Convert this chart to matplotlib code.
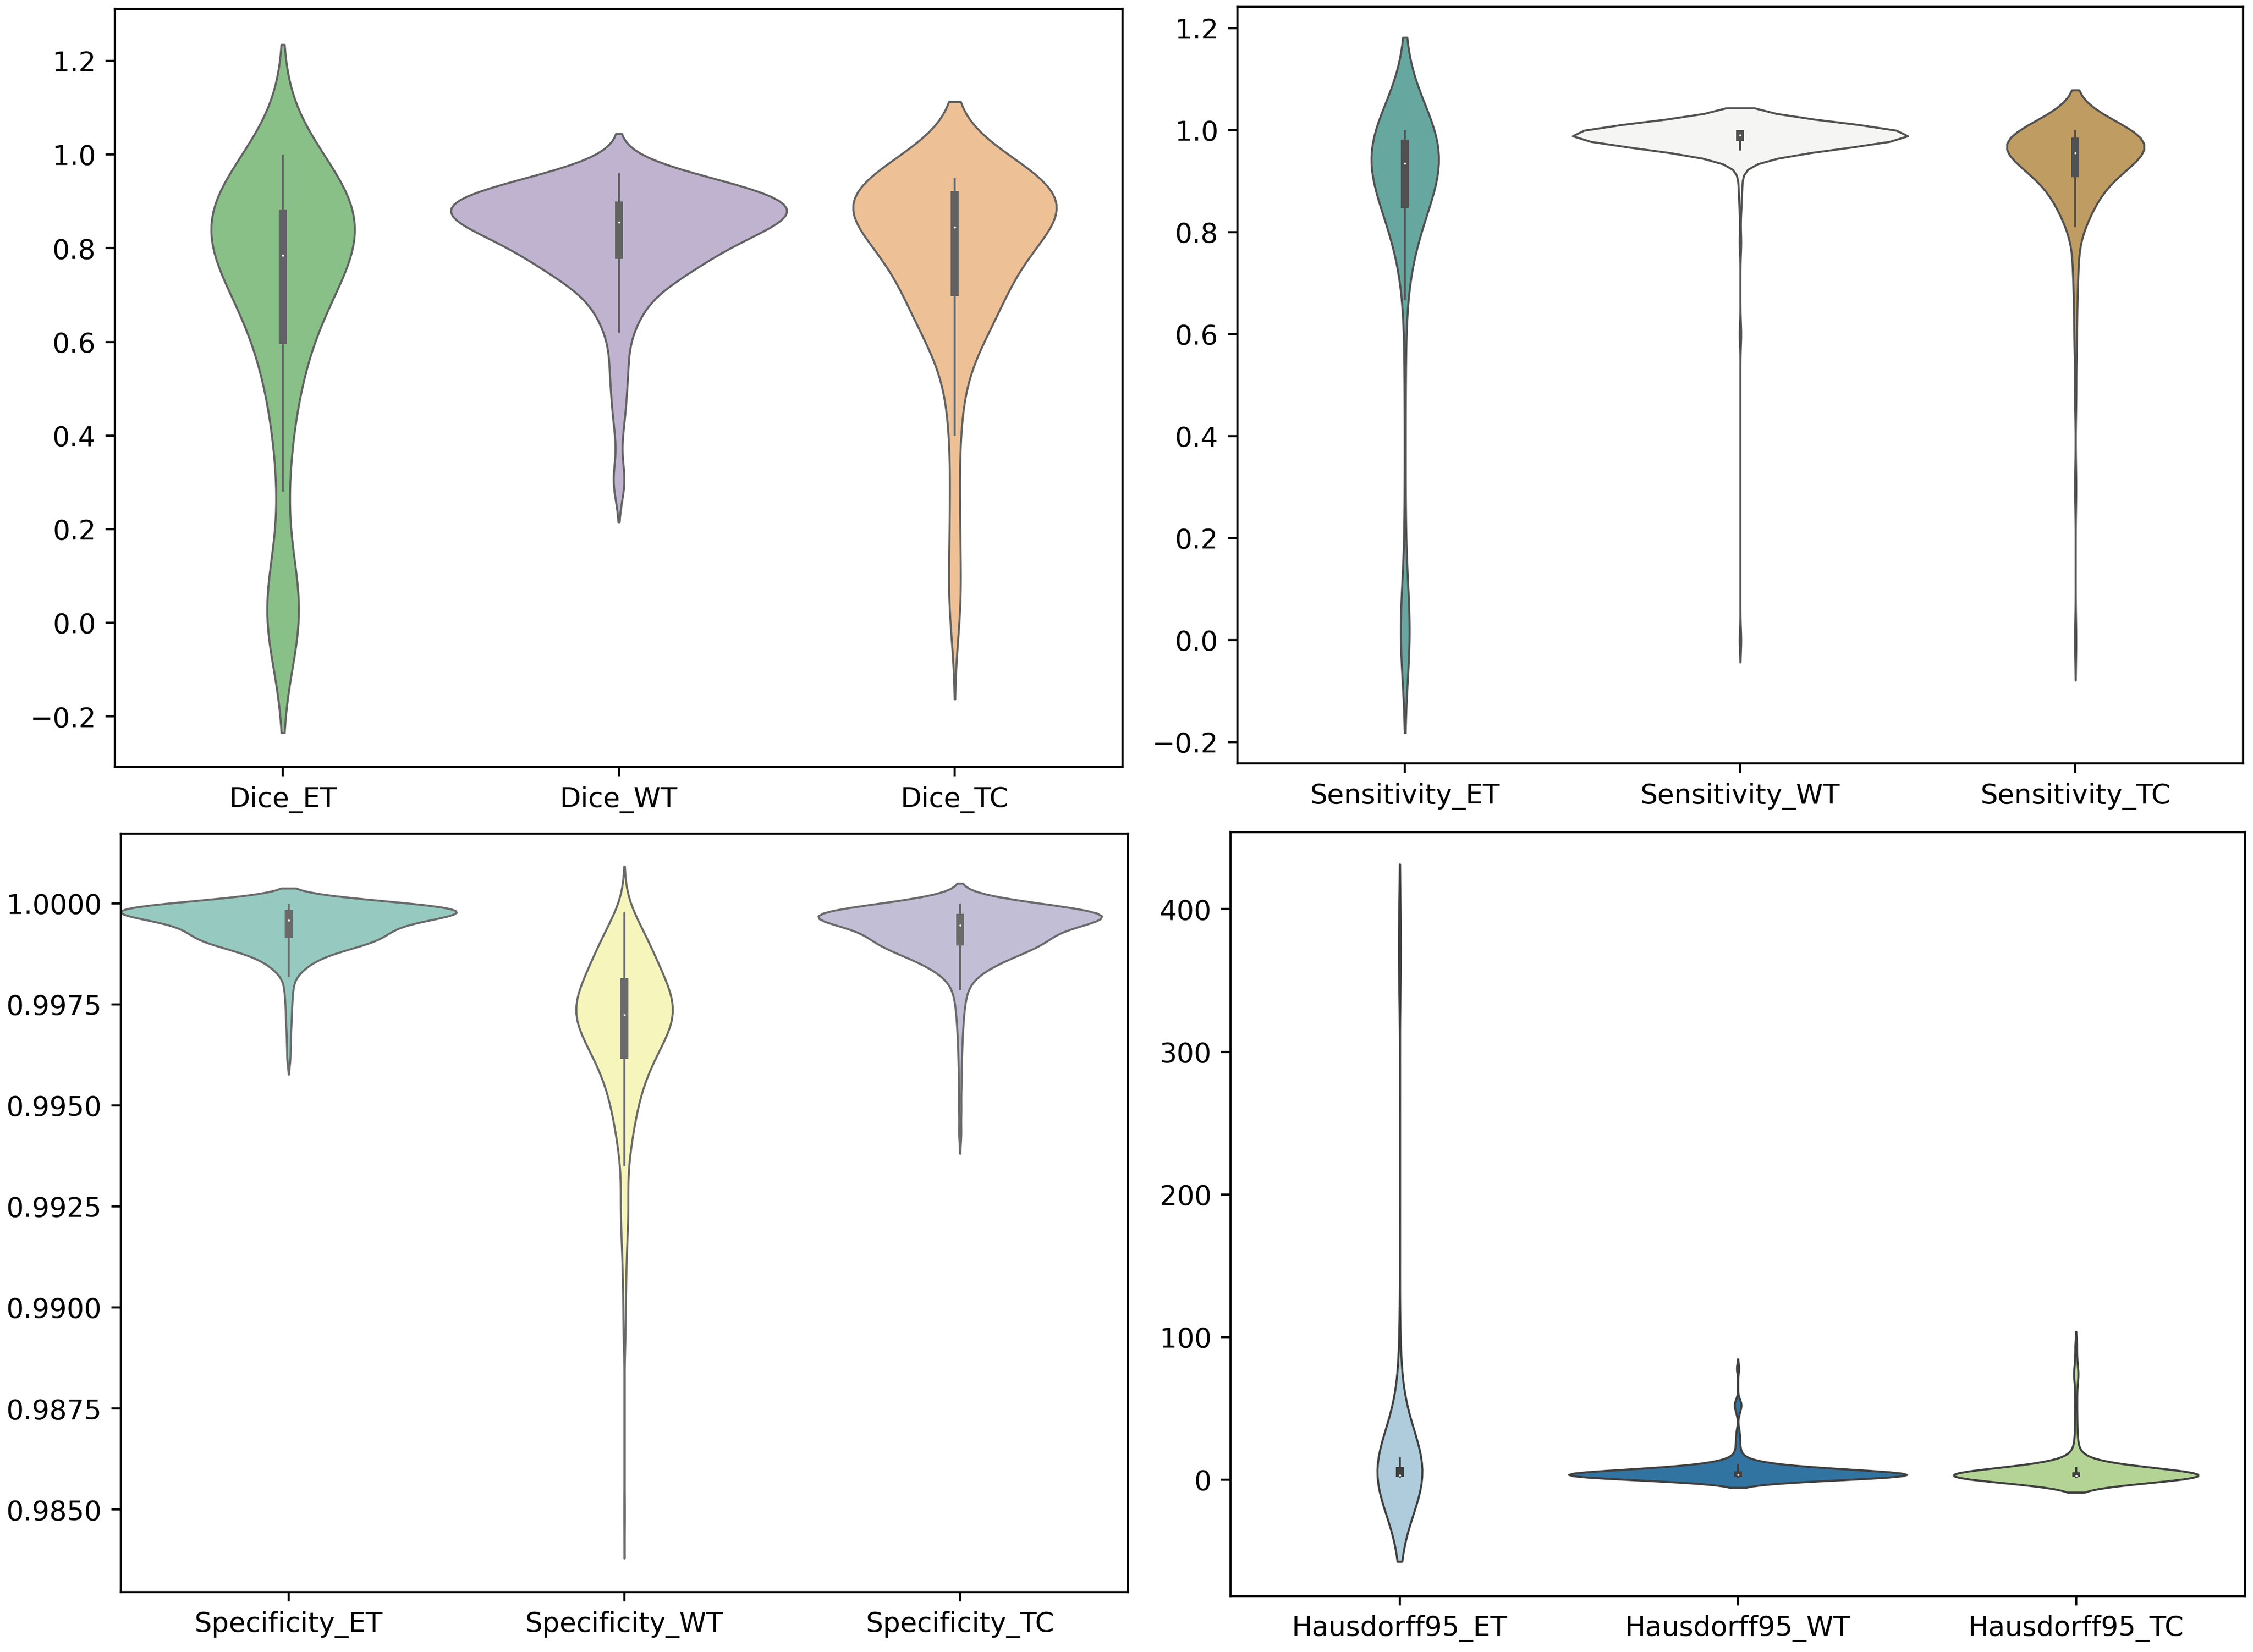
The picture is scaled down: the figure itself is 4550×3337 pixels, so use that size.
import numpy as np
import pandas as pd
import matplotlib
matplotlib.use('Agg')
import matplotlib.pyplot as plt
from matplotlib.cbook import boxplot_stats
import seaborn as sns

# each metric is stored as distinct values + how many cases share that value

dice_names = ['Dice_ET', 'Dice_WT', 'Dice_TC']
dice_et_values = [0.00, 0.01, 0.03, 0.05, 0.06, 0.08, 0.10,
                  0.28, 0.33, 0.38, 0.42, 0.46, 0.49, 0.52, 0.54, 0.55, 0.56, 0.57, 0.58,
                  0.60, 0.62, 0.63, 0.64, 0.66, 0.67, 0.68, 0.69, 0.70, 0.71,
                  0.72, 0.73, 0.74, 0.75, 0.76, 0.77, 0.78,
                  0.79, 0.80, 0.81, 0.82, 0.83, 0.84, 0.85, 0.86, 0.87, 0.88,
                  0.89, 0.90, 0.91, 0.92, 0.93, 0.94, 0.95, 0.96, 0.97, 0.98, 1.00]
dice_et_counts = [6, 2, 1, 1, 1, 1, 1,
                  1, 1, 1, 1, 1, 1, 1, 1, 1, 1, 1, 1,
                  1, 1, 1, 1, 1, 1, 1, 1, 1, 1,
                  2, 1, 2, 2, 2, 2, 4,
                  1, 2, 2, 3, 2, 3, 3, 3, 3, 3,
                  3, 3, 3, 3, 3, 2, 2, 1, 1, 1, 3]
dice_wt_values = [0.30, 0.31, 0.40, 0.44, 0.46, 0.49, 0.51, 0.53, 0.55, 0.57, 0.58,
                  0.62, 0.64, 0.66, 0.67, 0.69, 0.70, 0.71, 0.72, 0.73,
                  0.74, 0.75, 0.76, 0.77,
                  0.78, 0.79, 0.80, 0.81, 0.82, 0.83, 0.84, 0.85,
                  0.86, 0.87, 0.88, 0.89, 0.90,
                  0.91, 0.92, 0.93, 0.94, 0.95, 0.96]
dice_wt_counts = [2, 1, 1, 1, 1, 1, 1, 1, 1, 1, 1,
                  2, 2, 2, 2, 2, 2, 2, 2, 2,
                  4, 4, 6, 6,
                  4, 4, 6, 6, 6, 8, 8, 8,
                  10, 12, 12, 10, 12,
                  10, 10, 8, 8, 4, 4]
dice_tc_values = [0.00, 0.05, 0.10, 0.17, 0.24, 0.31, 0.40, 0.45, 0.50, 0.54,
                  0.57, 0.59, 0.61, 0.62, 0.63, 0.64, 0.65, 0.66, 0.67, 0.68, 0.69,
                  0.70, 0.71, 0.72, 0.73, 0.74, 0.75, 0.76, 0.77, 0.78, 0.79,
                  0.80, 0.81, 0.82, 0.83, 0.84,
                  0.85, 0.86, 0.87, 0.88, 0.89, 0.90, 0.91, 0.92,
                  0.93, 0.94, 0.95]
dice_tc_counts = [1, 1, 1, 1, 1, 1, 1, 1, 1, 1,
                  1, 1, 1, 1, 1, 1, 1, 2, 2, 2, 2,
                  1, 1, 1, 1, 1, 2, 1, 2, 2, 2,
                  2, 2, 2, 3, 2,
                  3, 3, 3, 3, 3, 3, 3, 4,
                  9, 9, 7]

sens_names = ['Sensitivity_ET', 'Sensitivity_WT', 'Sensitivity_TC']
sens_et_values = [0.00, 0.01, 0.02, 0.03, 0.05, 0.07, 0.10, 0.14, 0.20,
                  0.25, 0.32, 0.40, 0.47, 0.53, 0.58, 0.62,
                  0.667, 0.69, 0.71, 0.73, 0.75, 0.77, 0.79, 0.80, 0.81, 0.82, 0.83, 0.84,
                  0.85, 0.86, 0.87, 0.88, 0.89, 0.90, 0.91, 0.92, 0.93,
                  0.94, 0.95, 0.96, 0.97, 0.98,
                  0.985, 0.99, 0.995, 1.00]
sens_et_counts = [14, 4, 3, 2, 2, 2, 1, 1, 1,
                  1, 1, 1, 1, 1, 1, 1,
                  1, 1, 1, 2, 2, 3, 4, 4, 5, 5, 5, 5,
                  7, 7, 8, 8, 8, 9, 9, 10, 9,
                  15, 16, 16, 16, 12,
                  15, 25, 15, 20]
sens_wt_values = [0.00, 0.60, 0.78, 0.85, 0.88, 0.90, 0.92, 0.93,
                  0.96, 0.965, 0.97, 0.975, 0.98, 0.985, 0.99, 0.995, 1.00]
sens_wt_counts = [1, 1, 1, 1, 1, 1, 1, 1,
                  7, 10, 20, 25, 30, 25, 25, 10, 120]
sens_tc_values = [0.00, 0.30, 0.48, 0.56, 0.60, 0.64, 0.67, 0.70, 0.72, 0.74, 0.755, 0.765,
                  0.81, 0.82, 0.83, 0.84, 0.85, 0.86, 0.87, 0.88, 0.89, 0.90,
                  0.91, 0.92, 0.93, 0.94, 0.95,
                  0.96, 0.97, 0.98,
                  0.985, 0.99, 0.995, 1.00]
sens_tc_counts = [1, 1, 1, 1, 1, 1, 1, 1, 1, 1, 1, 1,
                  3, 2, 3, 3, 4, 4, 4, 4, 5, 6,
                  7, 8, 10, 11, 14,
                  15, 15, 14,
                  11, 16, 14, 15]

spec_names = ['Specificity_ET', 'Specificity_WT', 'Specificity_TC']
spec_et_values = [0.99615, 0.99650, 0.99680, 0.99705, 0.99725, 0.99745, 0.99762, 0.99778, 0.99792, 0.99803,
                  0.99817, 0.99825, 0.99833, 0.99841, 0.99849, 0.99857, 0.99865, 0.99873, 0.99881,
                  0.99889, 0.99897, 0.99905, 0.99910,
                  0.99915, 0.99922, 0.99930, 0.99937, 0.99944, 0.99951, 0.99957,
                  0.99960, 0.99964, 0.99968, 0.99972, 0.99976, 0.99980, 0.99984, 0.99988,
                  0.99992, 0.99995, 0.99998, 1.00000]
spec_et_counts = [1, 1, 1, 1, 1, 1, 1, 1, 1, 1,
                  1, 1, 2, 2, 3, 3, 4, 5, 6,
                  8, 10, 12, 8,
                  10, 11, 12, 13, 14, 10, 5,
                  8, 10, 12, 14, 14, 14, 14, 13,
                  12, 11, 12, 16]
spec_wt_values = [0.98493, 0.98950, 0.99050, 0.99120, 0.99170, 0.99210, 0.99240, 0.99265, 0.99285,
                  0.99351, 0.99370, 0.99390, 0.99410, 0.99430, 0.99450, 0.99470, 0.99490, 0.99510,
                  0.99530, 0.99550, 0.99570, 0.99590, 0.99600,
                  0.99615, 0.99630, 0.99645, 0.99660, 0.99675, 0.99690, 0.99700, 0.99712,
                  0.99725, 0.99738, 0.99750, 0.99762, 0.99774, 0.99786, 0.99798,
                  0.99815, 0.99830, 0.99845, 0.99860, 0.99875, 0.99890, 0.99905, 0.99920,
                  0.99935, 0.99950, 0.99965, 0.99978]
spec_wt_counts = [1, 3, 3, 3, 3, 3, 3, 3, 3,
                  3, 3, 3, 3, 3, 6, 6, 6, 6,
                  9, 9, 9, 9, 9,
                  12, 12, 12, 15, 15, 15, 15, 18,
                  18, 18, 15, 15, 15, 15, 15,
                  15, 15, 12, 12, 12, 9, 9, 9,
                  9, 6, 3, 3]
spec_tc_values = [0.99431, 0.99490, 0.99545, 0.99590, 0.99625, 0.99655, 0.99680, 0.99700, 0.99718,
                  0.99733, 0.99747, 0.99760, 0.99770, 0.99778,
                  0.99786, 0.99795, 0.99804, 0.99812, 0.99820, 0.99828, 0.99836, 0.99844,
                  0.99852, 0.99860, 0.99868, 0.99876, 0.99884, 0.99890,
                  0.99898, 0.99904, 0.99910, 0.99916, 0.99922, 0.99928, 0.99934, 0.99942,
                  0.99950, 0.99954, 0.99958, 0.99962, 0.99966, 0.99970, 0.99974, 0.99978,
                  0.99982, 0.99986, 0.99990, 0.99994, 0.99997, 1.00000]
spec_tc_counts = [1, 1, 1, 1, 1, 1, 1, 1, 1,
                  1, 1, 1, 1, 1,
                  1, 1, 1, 2, 2, 3, 3, 4,
                  5, 6, 7, 8, 9, 9,
                  9, 10, 10, 11, 11, 9, 8, 7,
                  6, 9, 12, 14, 16, 17, 17, 16,
                  13, 11, 8, 6, 3, 2]

hd_names = ['Hausdorff95_ET', 'Hausdorff95_WT', 'Hausdorff95_TC']
hd_et_values = [1.0, 1.41, 1.73, 2.0, 2.24, 2.45, 2.83, 3.0, 3.61, 4.12, 5.0, 6.0, 7.07,
                8.06, 9.06, 10.05, 11.0, 12.08, 13.0, 14.2, 15.6,
                24.0, 28.5, 33.0, 39.0, 46.0, 54.0, 61.0, 70.0, 85.0, 373.13]
hd_et_counts = [8, 10, 5, 7, 6, 4, 5, 5, 4, 4, 4, 4, 4,
                3, 3, 3, 2, 2, 2, 1, 1,
                1, 1, 1, 1, 1, 1, 1, 1, 1, 4]
hd_wt_values = [1.0, 1.41, 2.0, 2.24, 2.83, 3.0, 3.16, 3.61, 4.0, 4.24, 4.47, 5.0, 5.39,
                6.0, 6.4, 7.07, 7.81, 8.6, 9.43, 10.2, 11.0, 12.04, 13.0, 14.0,
                16.0, 18.0, 21.0, 25.0, 29.0, 34.0, 47.0, 52.0, 55.0, 78.0]
hd_wt_counts = [10, 17, 15, 12, 14, 14, 10, 12, 10, 8, 8, 8, 7,
                7, 6, 6, 5, 5, 4, 3, 3, 2, 2, 1,
                1, 1, 1, 1, 1, 1, 1, 2, 1, 1]
hd_tc_values = [1.0, 1.41, 1.73, 2.0, 2.24, 2.45, 2.83, 3.0, 3.16, 3.61, 4.0, 4.47, 5.0,
                5.66, 6.4, 7.07, 8.0, 9.0, 10.0, 11.0, 12.2, 13.5, 15.0, 16.8, 19.0,
                22.0, 26.0, 31.0, 38.0, 46.0, 55.0, 64.0, 71.0, 74.0, 77.0, 84.0, 94.0]
hd_tc_counts = [12, 23, 8, 21, 14, 8, 14, 11, 8, 9, 8, 7, 7,
                6, 5, 5, 4, 4, 3, 3, 2, 2, 2, 1, 1,
                1, 1, 1, 1, 1, 1, 1, 1, 1, 1, 1, 1]


def long_table(names, values, counts):
    parts = []
    for name, v, c in zip(names, values, counts):
        parts.append(pd.DataFrame({'metric': name, 'value': np.repeat(v, c)}))
    return pd.concat(parts, ignore_index=True)


def draw_panel(fig, rect, names, values, counts, palette, y_lim):
    ax = fig.add_axes(rect)
    table = long_table(names, values, counts)
    sns.violinplot(data=table, x='metric', y='value', hue='metric',
                   palette=palette, legend=False, width=1.0, linewidth=0.75,
                   common_norm=True, inner=None, ax=ax)
    gray = ax.collections[0].get_edgecolor()[0]
    # inner box: whiskers, quartile box and a white median dot
    for pos, name in enumerate(names):
        st = boxplot_stats(table.loc[table['metric'] == name, 'value'].values)[0]
        ax.plot([pos, pos], [st['whislo'], st['whishi']], color=gray,
                lw=0.75, solid_capstyle='butt', zorder=3)
        ax.plot([pos, pos], [st['q1'], st['q3']], color=gray,
                lw=2.9, solid_capstyle='butt', zorder=3)
        ax.plot(pos, st['med'], marker='o', ms=1.0, mfc='white', mec=gray,
                mew=0.25, zorder=4)
    ax.set_xlabel('')
    ax.set_ylabel('')
    ax.set_xlim(-0.5, 2.5)
    ax.set_ylim(y_lim)
    return ax


fig = plt.figure(figsize=(4550 / 397, 3337 / 397), dpi=397)

draw_panel(fig, [0.0510, 0.5358, 0.4473, 0.4588], dice_names,
           [dice_et_values, dice_wt_values, dice_tc_values],
           [dice_et_counts, dice_wt_counts, dice_tc_counts],
           'Accent', (-0.3075, 1.311))
draw_panel(fig, [0.5492, 0.5379, 0.4464, 0.4579], sens_names,
           [sens_et_values, sens_wt_values, sens_tc_values],
           [sens_et_counts, sens_wt_counts, sens_tc_counts],
           'BrBG_r', (-0.2415, 1.2415))
draw_panel(fig, [0.0536, 0.0363, 0.4470, 0.4591], spec_names,
           [spec_et_values, spec_wt_values, spec_tc_values],
           [spec_et_counts, spec_wt_counts, spec_tc_counts],
           'Set3', (0.98296, 1.00173))
draw_panel(fig, [0.5462, 0.0339, 0.4503, 0.4624], hd_names,
           [hd_et_values, hd_wt_values, hd_tc_values],
           [hd_et_counts, hd_wt_counts, hd_tc_counts],
           'Paired', (-81.5, 454.0))

fig.savefig('out.png', dpi=397)
